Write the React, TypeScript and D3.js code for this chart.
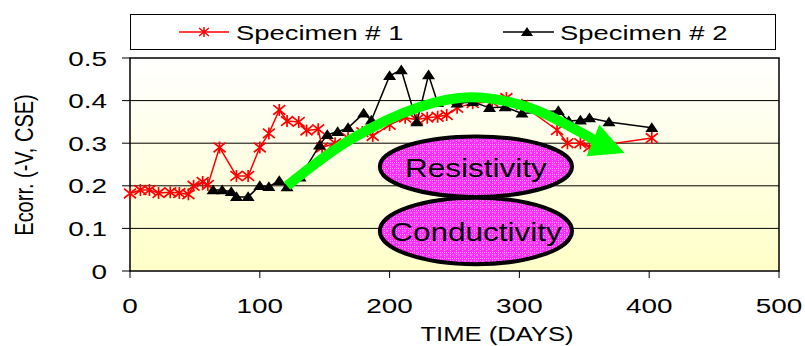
import React from 'react';
import * as d3 from 'd3';

// Specimen # 1 (red asterisks)
const days1 = [0, 8, 15, 22, 31, 38, 45, 49, 56, 60, 69, 82, 91, 100, 107, 115, 121, 130, 136, 145, 148, 158, 168, 179, 187, 200, 212, 221, 229, 237, 244, 252, 264, 279, 290, 302, 329, 337, 347, 354, 402];
const vals1 = [0.182, 0.19, 0.19, 0.183, 0.185, 0.183, 0.18, 0.2, 0.209, 0.202, 0.29, 0.223, 0.223, 0.29, 0.323, 0.378, 0.352, 0.35, 0.33, 0.333, 0.29, 0.3, 0.312, 0.326, 0.317, 0.343, 0.36, 0.355, 0.36, 0.362, 0.366, 0.383, 0.394, 0.397, 0.406, 0.39, 0.331, 0.3, 0.3, 0.291, 0.312];

// Specimen # 2 (black triangles)
const days2 = [64, 71, 78, 82, 91, 100, 107, 115, 121, 131, 146, 152, 160, 168, 180, 186, 200, 209, 221, 230, 237, 252, 264, 277, 289, 302, 330, 338, 347, 354, 369, 402];
const vals2 = [0.19, 0.19, 0.186, 0.174, 0.174, 0.2, 0.198, 0.212, 0.197, 0.22, 0.295, 0.32, 0.327, 0.336, 0.37, 0.354, 0.458, 0.472, 0.35, 0.46, 0.395, 0.394, 0.397, 0.383, 0.385, 0.37, 0.376, 0.352, 0.354, 0.359, 0.35, 0.336];

const xTicks = [0, 100, 200, 300, 400, 500];
const yTicks = [0, 0.1, 0.2, 0.3, 0.4, 0.5];
const seriesNames = ['Specimen # 1', 'Specimen # 2'];

// green trend arrow (annotation, in data units)
const arrowDays = [121, 169, 223, 262, 308, 362];
const arrowVals = [0.2, 0.307, 0.385, 0.408, 0.383, 0.3];
const arrowTip = [381, 0.277];

// ellipse annotations: label, centre day, centre value, half-width (days), half-height (value)
const bubbles: [string, number, number, number, number][] = [
  ['Resistivity', 266.5, 0.245, 74, 0.071],
  ['Conductivity', 266.5, 0.094, 74, 0.078],
];

const W = 805;
const H = 346;
const left = 130;
const right = 779;
const top = 58;
const bottom = 271;
const font = 'Liberation Sans, Arial, sans-serif';
const SX = 1.33; // the original picture is stretched sideways

const x = d3.scaleLinear().domain([0, 500]).range([left, right]);
const y = d3.scaleLinear().domain([0, 0.5]).range([bottom, top]);

const star = (cx: number, cy: number, r = 6) =>
  `M${cx - r},${cy - r * 0.8}L${cx + r},${cy + r * 0.8}M${cx - r},${cy + r * 0.8}L${cx + r},${cy - r * 0.8}M${cx},${cy - r}L${cx},${cy + r}`;
const tri = (cx: number, cy: number, r = 6) =>
  `M${cx},${cy - r * 0.85}L${cx + r},${cy + r * 0.65}L${cx - r},${cy + r * 0.65}Z`;

const T = (p: { x: number; y: number; size: number; anchor?: string; sx?: number; children: React.ReactNode }) => (
  <text
    transform={`translate(${p.x},${p.y}) scale(${p.sx ?? SX},1)`}
    fontSize={p.size}
    textAnchor={p.anchor || 'start'}
  >
    {p.children}
  </text>
);

const App: React.FC = () => {
  const path1 = d3.line<number>().x(d => x(days1[d])).y(d => y(vals1[d]))(days1.map((_, i) => i)) || '';
  const path2 = d3.line<number>().x(d => x(days2[d])).y(d => y(vals2[d]))(days2.map((_, i) => i)) || '';
  const arrowPath = d3.line<number>()
    .x(d => x(arrowDays[d]))
    .y(d => y(arrowVals[d]))
    .curve(d3.curveCatmullRom)(arrowDays.map((_, i) => i)) || '';

  // arrowhead oriented along the last shaft segment
  const n = arrowDays.length;
  const ax = x(arrowDays[n - 1]);
  const ay = y(arrowVals[n - 1]);
  const tx = x(arrowTip[0]);
  const ty = y(arrowTip[1]);
  const ang = Math.atan2(ty - ay, tx - ax);
  const len = 34;
  const half = 17;
  const bx = tx - len * Math.cos(ang);
  const by = ty - len * Math.sin(ang);
  const head = `M${tx},${ty}L${bx + half * Math.sin(ang)},${by - half * Math.cos(ang)}L${bx - half * Math.sin(ang)},${by + half * Math.cos(ang)}Z`;
  const shaftEnd = `M${ax},${ay}L${bx},${by}`;

  return (
    <svg width={W} height={H} style={{ position: 'absolute', left: 0, top: 0 }} fontFamily={font}>
      <defs>
        <linearGradient id="bg" x1="0" x2="0" y1="0" y2="1">
          <stop offset="0%" stopColor="#ffffff" />
          <stop offset="100%" stopColor="#ffffc8" />
        </linearGradient>
        <pattern id="hatch" width="6" height="6" patternUnits="userSpaceOnUse">
          <rect width="6" height="6" fill="#ff2cff" />
          <path d="M0,0.5H6M0.5,0V6" stroke="#ff9cff" strokeWidth="1" strokeDasharray="1,1" />
          <rect x="2" y="2" width="2" height="2" fill="#ff66ff" />
        </pattern>
      </defs>

      {/* legend */}
      <rect x={130.5} y={14.5} width={645} height={35} fill="#fff" stroke="#000" strokeWidth={1} />
      <line x1={179} x2={229} y1={32} y2={32} stroke="#ff0000" strokeWidth={1.5} />
      <path d={star(204, 32, 5)} stroke="#ff0000" strokeWidth={1.5} fill="none" />
      <T x={236} y={39.5} size={20} sx={1.37}>{seriesNames[0]}</T>
      <line x1={503} x2={554} y1={32} y2={32} stroke="#000" strokeWidth={1.5} />
      <path d={tri(527, 32, 6)} fill="#000" />
      <T x={560} y={39.5} size={20} sx={1.37}>{seriesNames[1]}</T>

      {/* plot area */}
      <rect x={left} y={top} width={right - left} height={bottom - top} fill="url(#bg)" />
      {yTicks.slice(1, -1).map(t => (
        <line key={t} x1={left} x2={right} y1={y(t)} y2={y(t)} stroke="#000" strokeWidth={1} />
      ))}
      <rect x={left} y={top} width={right - left} height={bottom - top} fill="none" stroke="#000" strokeWidth={1.5} />

      {/* axes */}
      {yTicks.map(t => (
        <g key={t}>
          <line x1={left - 8} x2={left} y1={y(t)} y2={y(t)} stroke="#000" strokeWidth={1} />
          <T x={107} y={y(t) + 7.5} size={21} anchor="end">{t === 0 ? '0' : t.toFixed(1)}</T>
        </g>
      ))}
      {xTicks.map(t => (
        <g key={t}>
          <line x1={x(t)} x2={x(t)} y1={bottom} y2={bottom + 7} stroke="#000" strokeWidth={1} />
          <T x={x(t)} y={312.5} size={21} anchor="middle">{t}</T>
        </g>
      ))}
      <T x={497} y={341} size={21} anchor="middle" sx={1.22}>TIME (DAYS)</T>
      <text transform="translate(33,165) rotate(-90) scale(1,1.33)" fontSize={20} textAnchor="middle">Ecorr. (-V, CSE)</text>

      {/* series */}
      <path d={path1} fill="none" stroke="#ff0000" strokeWidth={1.5} />
      {days1.map((d, i) => (
        <path key={i} d={star(x(d), y(vals1[i]), 6)} stroke="#ff0000" strokeWidth={1.7} fill="none" />
      ))}
      <path d={path2} fill="none" stroke="#000" strokeWidth={1.5} />
      {days2.map((d, i) => (
        <path key={i} d={tri(x(d), y(vals2[i]), 6.5)} fill="#000" />
      ))}

      {/* trend arrow */}
      <path d={arrowPath} fill="none" stroke="#00ff00" strokeWidth={10} />
      <path d={shaftEnd} fill="none" stroke="#00ff00" strokeWidth={10} />
      <path d={head} fill="#00ff00" />

      {/* annotations */}
      {bubbles.map(([label, cd, cv, rd, rv]) => (
        <g key={label}>
          <ellipse cx={x(cd)} cy={y(cv)} rx={x(cd + rd) - x(cd)} ry={y(cv - rv) - y(cv)} fill="url(#hatch)" stroke="#000" strokeWidth={4} />
          <T x={x(cd)} y={y(cv) + 10} size={25} anchor="middle" sx={1.26}>{label}</T>
        </g>
      ))}
    </svg>
  );
};

export default App;
